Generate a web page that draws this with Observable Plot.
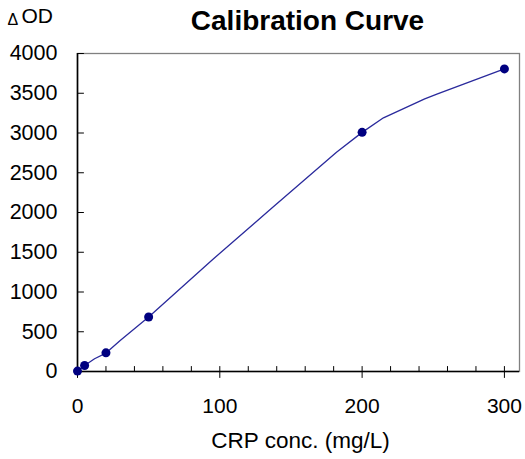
<!DOCTYPE html>
<html>
<head>
<meta charset="utf-8">
<script src="https://cdn.jsdelivr.net/npm/d3@7"></script>
<script src="https://cdn.jsdelivr.net/npm/@observablehq/plot@0.6"></script>
<style>
  html, body { margin: 0; padding: 0; background: #ffffff; }
  #chart { width: 525px; height: 459px; }
</style>
</head>
<body>
<div id="chart"></div>
<script>
// Measured calibration points
const concs = [0, 5, 20, 50, 200, 300];
const deltaOD = [5, 75, 235, 685, 3008, 3806];

// Fitted calibration curve
const curveConc = [0, 5, 12, 20, 30, 50, 95, 136, 182, 200, 215, 244, 253, 300];
const curveOD = [5, 75, 160, 232, 390, 685, 1409, 2046, 2759, 3008, 3191, 3430, 3493, 3806];

// Axis ticks
const xTicks = [0, 100, 200, 300];
const xMinorTicks = [20, 40, 60, 80, 100, 120, 140, 160, 180, 200, 220, 240, 260, 280, 300];
const yTicks = [0, 500, 1000, 1500, 2000, 2500, 3000, 3500, 4000];

const titleText = "Calibration Curve";
const xLabel = "CRP conc. (mg/L)";
const yLabelDelta = "\u0394";
const yLabelOD = "OD";

const points = concs.map((c, i) => ({c, od: deltaOD[i]}));
const curve = curveConc.map((c, i) => ({c, od: curveOD[i]}));

const tickShape = {
  draw(context, l) {
    context.moveTo(0, 0);
    context.lineTo(0, -l);
  }
};

const font = "'Liberation Sans', Arial, sans-serif";

const chart = Plot.plot({
  width: 525,
  height: 459,
  marginLeft: 77,
  marginRight: 6,
  marginTop: 53,
  marginBottom: 88,
  style: {fontFamily: font, fontSize: "21px", color: "#000", background: "#fff"},
  x: {domain: [0, 310.6], axis: null},
  y: {domain: [0, 4000], axis: null},
  marks: [
    Plot.frame({stroke: "#808080", strokeWidth: 1.3}),
    // axis lines
    Plot.ruleY([0], {stroke: "#000", strokeWidth: 1.6}),
    Plot.ruleX([0], {stroke: "#000", strokeWidth: 1.6}),
    // tick marks
    Plot.vector(yTicks, {x: 0, y: d => d, length: 6, rotate: 90, anchor: "start", shape: tickShape, stroke: "#000", strokeWidth: 1}),
    Plot.vector(xMinorTicks, {x: d => d, y: 0, length: 5, rotate: 0, anchor: "start", shape: tickShape, stroke: "#000", strokeWidth: 1}),
    Plot.vector(xTicks, {x: d => d, y: 0, length: 6, rotate: 180, anchor: "start", shape: tickShape, stroke: "#000", strokeWidth: 1}),
    // tick labels
    Plot.axisX(xTicks, {tickSize: 0, tickPadding: 27, label: null, fontSize: 21, tickFormat: d => String(d)}),
    Plot.axisY(yTicks, {tickSize: 0, tickPadding: 20, label: null, fontSize: 21.5, tickFormat: d => String(d)}),
    // data
    Plot.line(curve, {x: "c", y: "od", stroke: "#2a2a9c", strokeWidth: 1.3}),
    Plot.dot(points, {x: "c", y: "od", r: 4.5, fill: "#000080", stroke: "none"}),
    // titles
    Plot.text([titleText], {frameAnchor: "top", dx: 9, dy: -43, lineAnchor: "top", fontSize: 28, fontWeight: "bold", text: d => d}),
    Plot.text([xLabel], {frameAnchor: "bottom", dx: 2, dy: 61, lineAnchor: "top", fontSize: 22.5, text: d => d}),
    Plot.text([yLabelDelta], {frameAnchor: "top-left", dx: -70, dy: -40, lineAnchor: "top", textAnchor: "start", fontSize: 16, text: d => d}),
    Plot.text([yLabelOD], {frameAnchor: "top-left", dx: -56, dy: -45, lineAnchor: "top", textAnchor: "start", fontSize: 21, text: d => d})
  ]
});

document.getElementById("chart").appendChild(chart);
</script>
</body>
</html>
